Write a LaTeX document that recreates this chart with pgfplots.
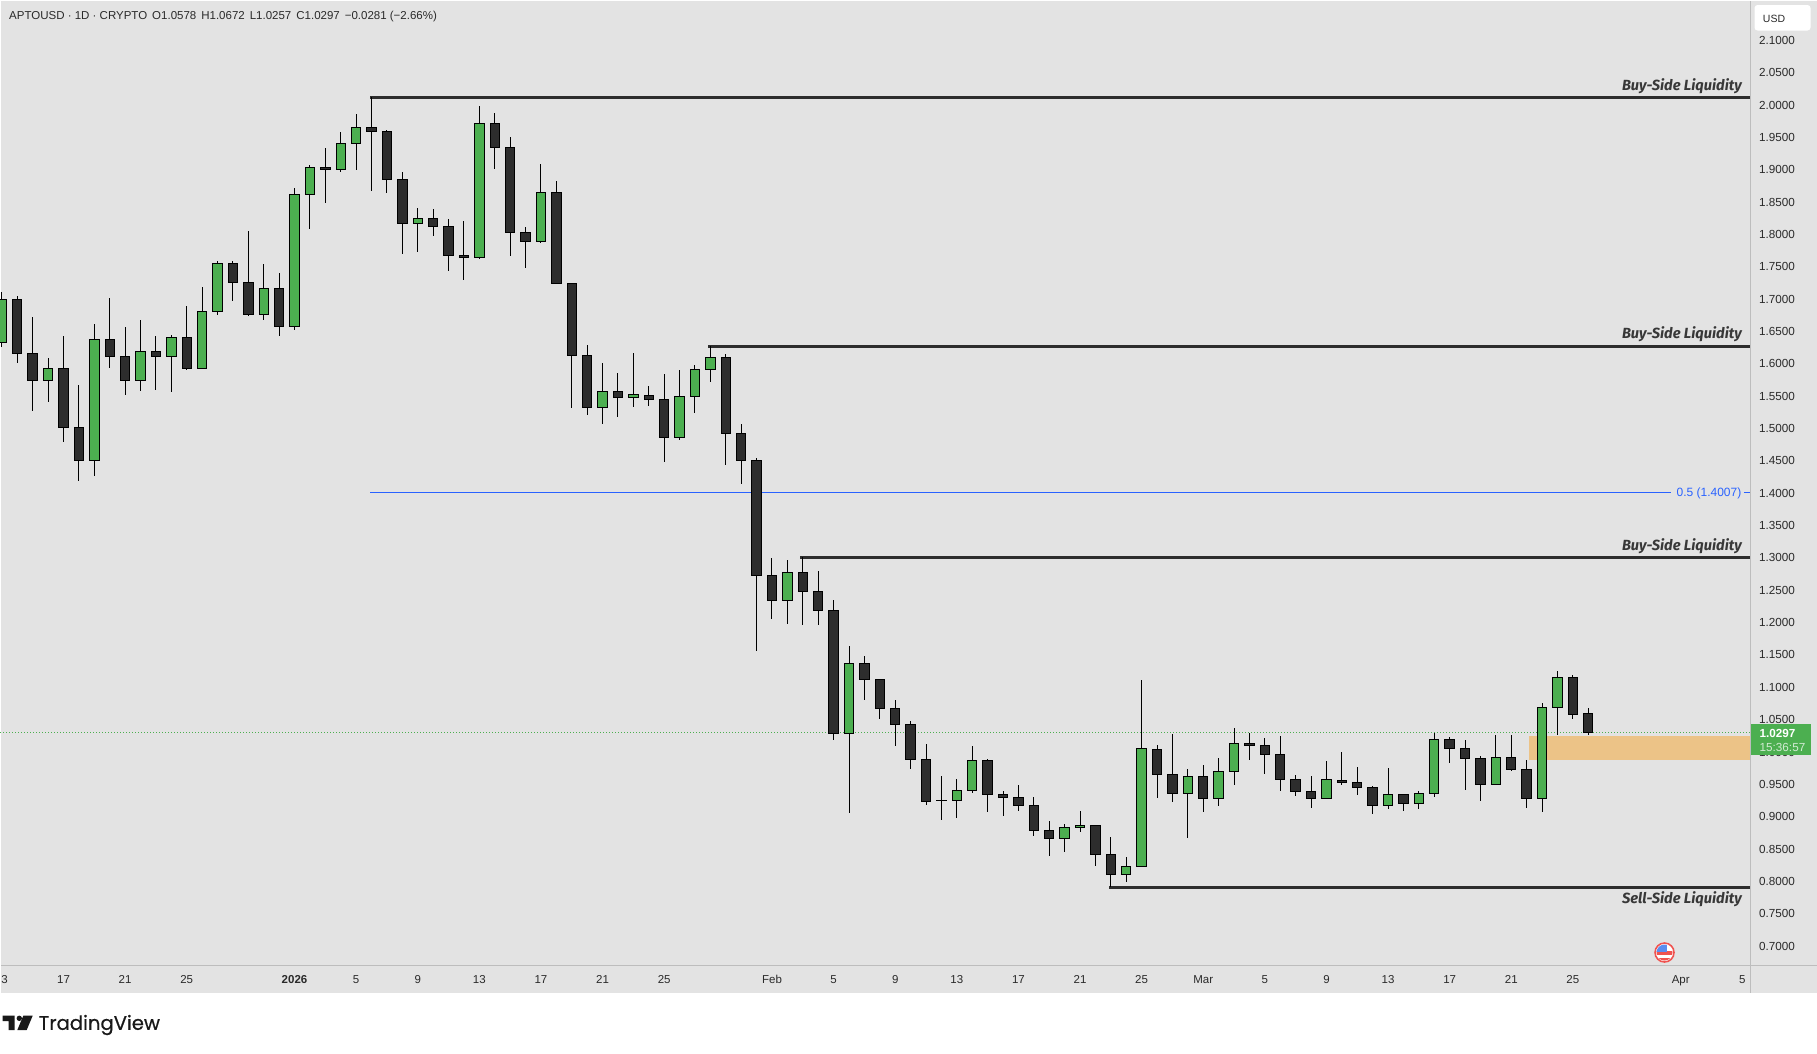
\documentclass[border=0pt]{standalone}
\usepackage{pgfplots}
\usepackage{pgfplotstable}
\usepackage{fontspec}
\pgfplotsset{compat=1.18}
\setmainfont{Liberation Sans}
\newfontfamily\lqfont{Fira Sans}
\newfontfamily\tvfont[FakeBold=0.5]{Poppins}
\definecolor{pane}{HTML}{E3E3E3}
\definecolor{sep}{HTML}{BDBDBD}
\definecolor{upc}{HTML}{4CAF50}
\definecolor{dnc}{HTML}{2D2D2D}
\definecolor{txt}{HTML}{2A2A2A}
\definecolor{lqt}{HTML}{383838}
\definecolor{fib}{HTML}{2962FF}
\definecolor{zone}{HTML}{ECC387}
\definecolor{flagr}{HTML}{EF5350}
\definecolor{flagb}{HTML}{5B8DEF}
\pgfplotstableread{
i o h l c
0 1.6321 1.7099 1.6254 1.6986
1 1.6986 1.7037 1.6007 1.6151
2 1.6151 1.6708 1.5265 1.5734
3 1.5734 1.6074 1.5404 1.5919
4 1.5919 1.6419 1.4786 1.5007
5 1.5007 1.5662 1.4183 1.4497
6 1.4497 1.6605 1.4260 1.6367
7 1.6367 1.7001 1.5930 1.6105
8 1.6105 1.6558 1.5512 1.5734
9 1.5734 1.6666 1.5574 1.6182
10 1.6182 1.6419 1.5590 1.6105
11 1.6105 1.6429 1.5559 1.6398
12 1.6398 1.6883 1.5899 1.5919
13 1.5919 1.7176 1.5919 1.6800
14 1.6800 1.7573 1.6749 1.7542
15 1.7542 1.7573 1.6965 1.7248
16 1.7248 1.8042 1.6733 1.6754
17 1.6754 1.7532 1.6671 1.7156
18 1.7156 1.7393 1.6424 1.6568
19 1.6568 1.8706 1.6517 1.8609
20 1.8609 1.9062 1.8078 1.9026
21 1.9026 1.9325 1.8480 1.8995
22 1.8995 1.9572 1.8959 1.9397
23 1.9397 1.9850 1.8990 1.9644
24 1.9644 2.0108 1.8666 1.9583
25 1.9583 1.9603 1.8635 1.8841
26 1.8841 1.8949 1.7692 1.8161
27 1.8161 1.8398 1.7723 1.8238
28 1.8238 1.8382 1.7970 1.8114
29 1.8114 1.8222 1.7429 1.7666
30 1.7666 1.8197 1.7290 1.7635
31 1.7635 1.9974 1.7615 1.9706
32 1.9706 1.9866 1.9006 1.9335
33 1.9335 1.9495 1.7661 1.8022
34 1.8022 1.8104 1.7475 1.7882
35 1.7882 1.9078 1.7862 1.8640
36 1.8640 1.8815 1.7233 1.7233
37 1.7233 1.7233 1.5312 1.6120
38 1.6120 1.6280 1.5203 1.5317
39 1.5317 1.6002 1.5064 1.5564
40 1.5564 1.5847 1.5172 1.5471
41 1.5471 1.6157 1.5327 1.5518
42 1.5502 1.5646 1.5343 1.5440
43 1.5440 1.5832 1.4477 1.4853
44 1.4853 1.5894 1.4817 1.5487
45 1.5487 1.5971 1.5234 1.5904
46 1.5904 1.6260 1.5713 1.6090
47 1.6090 1.6136 1.4431 1.4915
48 1.4915 1.5059 1.4137 1.4497
49 1.4497 1.4528 1.1555 1.2714
50 1.2719 1.2987 1.2050 1.2333
51 1.2333 1.2956 1.1972 1.2766
52 1.2766 1.2998 1.1957 1.2472
53 1.2472 1.2787 1.1957 1.2179
54 1.2179 1.2338 1.0179 1.0277
55 1.0277 1.1627 0.9051 1.1359
56 1.1359 1.1473 1.0798 1.1112
57 1.1112 1.1112 1.0504 1.0664
58 1.0664 1.0787 1.0087 1.0416
59 1.0416 1.0468 0.9731 0.9875
60 0.9875 1.0112 0.9175 0.9226
61 0.9243 0.9618 0.8943 0.9242
62 0.9242 0.9571 0.8974 0.9396
63 0.9396 1.0081 0.9360 0.9860
64 0.9860 0.9881 0.9066 0.9334
65 0.9334 0.9386 0.9005 0.9288
66 0.9288 0.9479 0.9082 0.9164
67 0.9164 0.9293 0.8696 0.8778
68 0.8778 0.8922 0.8386 0.8654
69 0.8654 0.8876 0.8448 0.8824
70 0.8824 0.9077 0.8757 0.8855
71 0.8856 0.8856 0.8232 0.8407
72 0.8407 0.8675 0.7897 0.8098
73 0.8098 0.8366 0.7985 0.8222
74 0.8222 1.1102 0.8222 1.0046
75 1.0030 1.0097 0.9283 0.9644
76 0.9644 1.0267 0.9221 0.9350
77 0.9350 0.9726 0.8665 0.9613
78 0.9613 0.9783 0.9067 0.9273
79 0.9273 0.9896 0.9160 0.9690
80 0.9690 1.0355 0.9484 1.0123
81 1.0123 1.0283 0.9871 1.0092
82 1.0092 1.0205 0.9654 0.9953
83 0.9953 1.0236 0.9391 0.9567
84 0.9567 0.9628 0.9314 0.9381
85 0.9381 0.9618 0.9129 0.9273
86 0.9273 0.9850 0.9273 0.9567
87 0.9551 0.9989 0.9484 0.9520
88 0.9520 0.9757 0.9330 0.9443
89 0.9443 0.9464 0.9036 0.9165
90 0.9165 0.9742 0.9113 0.9335
91 0.9335 0.9335 0.9082 0.9196
92 0.9196 0.9386 0.9113 0.9350
93 0.9350 1.0283 0.9299 1.0185
94 1.0185 1.0221 0.9824 1.0046
95 1.0046 1.0175 0.9407 0.9891
96 0.9891 0.9927 0.9237 0.9489
97 0.9489 1.0252 0.9489 0.9907
98 0.9907 1.0252 0.9690 0.9721
99 0.9721 0.9865 0.9129 0.9273
100 0.9273 1.0741 0.9067 1.0679
101 1.0679 1.1236 1.0257 1.1143
102 1.1143 1.1174 1.0504 1.0571
103 1.0578 1.0672 1.0257 1.0297
}\ohlc
\begin{document}
\begin{tikzpicture}[x=1pt,y=1pt]
\useasboundingbox (0,0) rectangle (1817,-1053);
\fill[white] (0,0) rectangle (1817,-1053);
\fill[pane] (1,-1) rectangle (1817,-992.7);
\draw[sep,line width=1pt] (1,-965.3) -- (1817,-965.3);
\draw[sep,line width=1pt] (1750.3,-1) -- (1750.3,-992.7);
\begin{axis}[
  at={(0pt,0pt)},anchor=north west,
  scale only axis,width=1750pt,height=965pt,
  xmin=-0.123,xmax=113.5,ymin=0.6697,ymax=2.1612,
  axis line style={draw=none},
  major tick length=0pt,
  yticklabel pos=right,
  ytick={0.7,0.75,...,2.11},
  /pgf/number format/fixed,/pgf/number format/fixed zerofill,/pgf/number format/precision=4,/pgf/number format/assume math mode=true,
  y tick label style={font=\fontsize{11.7}{13}\selectfont,text=txt,anchor=west,xshift=5.5pt,yshift=-0.7pt},
  xtick={0.17,4,8,12,19,23,27,31,35,39,43,50,54,58,62,66,70,74,78,82,86,90,94,98,102,109,113},
  xticklabels={3,17,21,25,\textbf{2026},5,9,13,17,21,25,Feb,5,9,13,17,21,25,Mar,5,9,13,17,21,25,Apr,5},
  x tick label style={font=\fontsize{11.5}{13}\selectfont,text=txt,anchor=base,yshift=-18pt},
  clip=true,
]
% demand zone
\addplot[draw=none,fill=zone,forget plot] coordinates {(99.15,0.9865)(113.5,0.9865)(113.5,1.0236)(99.15,1.0236)} -- cycle;
% last price
\addplot[upc,line width=1.1pt,dash pattern=on 1.2pt off 1.8pt,forget plot] coordinates {(-0.123,1.0297)(113.5,1.0297)};
% fib level
\addplot[fib,line width=1pt,forget plot] coordinates {(23.9,1.4007)(108.4,1.4007)};
\addplot[fib,line width=1pt,forget plot] coordinates {(113.1,1.4007)(113.5,1.4007)};
% liquidity lines
\addplot[dnc,line width=3pt,forget plot] coordinates {(23.9,2.0108)(113.5,2.0108)};
\addplot[dnc,line width=3pt,forget plot] coordinates {(45.85,1.6259)(113.5,1.6259)};
\addplot[dnc,line width=3pt,forget plot] coordinates {(51.85,1.2998)(113.5,1.2998)};
\addplot[dnc,line width=3pt,forget plot] coordinates {(71.9,0.7897)(113.5,0.7897)};
% wicks
\addplot[draw=none,no marks,forget plot,
  error bars/.cd,y dir=both,y explicit,error mark=none,
  error bar style={line width=1pt,black}]
  table[x=i,y=c,y error plus expr=\thisrow{h}-\thisrow{c},y error minus expr=\thisrow{c}-\thisrow{l}] {\ohlc};
% bodies: invisible base, then up and down heights
\addplot[ybar,stack plots=y,bar shift=0pt,bar width=9.4pt,draw=none,fill=none,forget plot]
  table[x=i,y expr={min(\thisrow{o},\thisrow{c})}] {\ohlc};
\addplot[ybar,stack plots=y,bar shift=0pt,bar width=9.4pt,draw=black,fill=upc,line width=1pt,forget plot]
  table[x=i,y expr={max(\thisrow{c}-\thisrow{o},0)}] {\ohlc};
\addplot[ybar,stack plots=y,bar shift=0pt,bar width=9.4pt,draw=black,fill=dnc,line width=1pt,forget plot]
  table[x=i,y expr={max(\thisrow{o}-\thisrow{c},0)}] {\ohlc};
\end{axis}
% header
\node[anchor=west,inner sep=0pt,text=txt,font=\fontsize{11.5}{13}\selectfont] at (9,-17) {APTOUSD · 1D · CRYPTO\hspace{5pt}O1.0578\hspace{5pt}H1.0672\hspace{5pt}L1.0257\hspace{5pt}C1.0297\hspace{5pt}−0.0281 (−2.66\%)};
% labels
\foreach \yy/\tt in {86/Buy-Side Liquidity,334/Buy-Side Liquidity,546/Buy-Side Liquidity,899/Sell-Side Liquidity}
  \node[anchor=east,inner sep=0pt,text=lqt,font=\lqfont\fontsize{14.7}{16}\selectfont\bfseries\itshape] at (1742,-\yy) {\tt};
\node[anchor=east,inner sep=0pt,text=fib,font=\fontsize{12}{14}\selectfont] at (1741.5,-493.5) {0.5 (1.4007)};
% USD box
\fill[white,rounded corners=3pt] (1754.5,-5) rectangle (1810.5,-30.5);
\node[inner sep=0pt,text=txt,font=\fontsize{10.5}{12}\selectfont] at (1774,-19) {USD};
% last price tag
\fill[upc] (1751,-723.5) rectangle (1811,-755);
\node[inner sep=0pt,anchor=west,text=white,font=\fontsize{11.7}{13}\selectfont\bfseries] at (1759.5,-733.2) {1.0297};
\node[inner sep=0pt,anchor=west,text=white!75!upc,font=\fontsize{11.7}{13}\selectfont] at (1759.5,-747) {15:36:57};
% event flag
\begin{scope}
\fill[white] (1664.5,-952.5) circle (10);
\clip (1664.5,-952.5) circle (8);
\fill[white] (1655,-962) rectangle (1674,-943);
\fill[flagr] (1655,-951) rectangle (1674,-955);
\fill[flagr] (1655,-958) rectangle (1674,-962);
\fill[flagb] (1655,-943) rectangle (1667,-952);
\end{scope}
\draw[flagr,line width=1.6pt] (1664.5,-952.5) circle (9.5);
% logo
\fill[black!90] (2.7,-1015.7) rectangle (14.7,-1021) (8.7,-1015.7) rectangle (14.7,-1030);
\fill[black!90] (19.3,-1018.3) circle (2.7);
\fill[black!90] (23.3,-1015.7) -- (32.7,-1015.7) -- (26.7,-1030) -- (17.3,-1030) -- cycle;
\node[anchor=west,inner sep=0pt,text=black!90,font=\tvfont\fontsize{19.6}{24}\selectfont] at (38.5,-1025) {TradingView};
\end{tikzpicture}
\end{document}
